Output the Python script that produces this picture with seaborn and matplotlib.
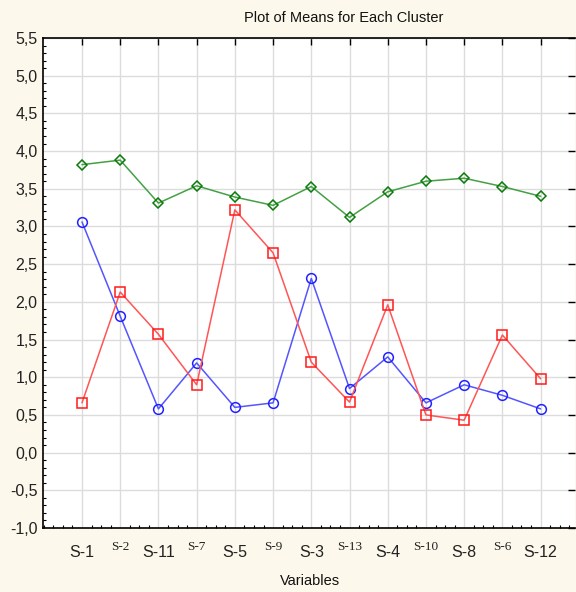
import matplotlib
matplotlib.use("Agg")
import matplotlib.pyplot as plt
import matplotlib.transforms as mtransforms
from matplotlib.ticker import MultipleLocator, FuncFormatter
import numpy as np
import pandas as pd
import seaborn as sns

# Valeurs
variables = ["S-1", "S-2", "S-11", "S-7", "S-5", "S-9", "S-3",
             "S-13", "S-4", "S-10", "S-8", "S-6", "S-12"]
cluster_green = [3.82, 3.88, 3.31, 3.54, 3.39, 3.28, 3.53, 3.12, 3.46, 3.60, 3.64, 3.53, 3.40]
cluster_blue = [3.06, 1.81, 0.58, 1.19, 0.60, 0.66, 2.31, 0.85, 1.27, 0.66, 0.90, 0.76, 0.58]
cluster_red = [0.66, 2.13, 1.57, 0.90, 3.22, 2.65, 1.20, 0.67, 1.96, 0.50, 0.43, 1.56, 0.98]

series = {
    "green": (cluster_green, "#44a044", "#0a7a0a", "D", 5),
    "blue": (cluster_blue, "#5555ff", "#2222ff", "o", 7),
    "red": (cluster_red, "#ff5555", "#ff1a1a", "s", 7),
}

sns.set_style("white")
plt.rcParams["font.family"] = ["Liberation Sans", "DejaVu Sans"]

bg = "#fdf8ec"
fig = plt.figure(figsize=(5.76, 5.92), dpi=100, facecolor=bg)
ax = fig.add_axes([43 / 576, 64 / 592, 532 / 576, 490 / 592])
ax.set_facecolor("white")

pos = np.arange(len(variables))
for name, (vals, lc, mc, mk, ms) in series.items():
    df = pd.DataFrame({"pos": pos, "mean": vals})
    sns.lineplot(data=df, x="pos", y="mean", ax=ax, color=lc, lw=1.1,
                 marker=mk, markersize=ms, markerfacecolor="none",
                 markeredgecolor=mc, markeredgewidth=1.1, zorder=3)

ax.set_xlim(-1.02, 12.9)
ax.set_ylim(-1.0, 5.5)
ax.set_xticks(pos)
ax.set_xticklabels(variables)
ax.xaxis.set_minor_locator(MultipleLocator(0.25))
ax.yaxis.set_major_locator(MultipleLocator(0.5))
ax.yaxis.set_minor_locator(MultipleLocator(0.1))
ax.yaxis.set_major_formatter(FuncFormatter(lambda v, p: f"{v:.1f}".replace(".", ",")))

ax.grid(True, which="major", color="#dcdcdc", lw=1)
ax.set_axisbelow(True)

ax.tick_params(which="major", direction="in", length=5, width=1, color="black",
               top=True, right=True, labelsize=11.5, pad=4)
ax.tick_params(which="minor", direction="in", length=2.5, width=0.8, color="black",
               bottom=True, left=True, top=False, right=False)
ax.tick_params(axis="x", which="major", pad=12)

for sp in ["left", "bottom", "top"]:
    ax.spines[sp].set_color("black")
    ax.spines[sp].set_linewidth(1.2)
ax.spines["right"].set_visible(False)

# étiquettes alternées : sans-serif / serif plus petites
offset = mtransforms.ScaledTranslation(0, 4 / 100, fig.dpi_scale_trans)
for i, lab in enumerate(ax.get_xticklabels()):
    if i % 2 == 1:
        lab.set_family("Liberation Serif")
        lab.set_fontsize(9.5)
        lab.set_transform(lab.get_transform() + offset)
    else:
        lab.set_fontsize(11.5)
    lab.set_color("#222222")
for lab in ax.get_yticklabels():
    lab.set_color("#222222")

ax.set_xlabel("")
ax.set_ylabel("")
fig.text(344 / 576, 1 - 18 / 592, "Plot of Means for Each Cluster",
         ha="center", va="center", fontsize=10.5, color="#111111")
fig.text(310 / 576, 1 - 581 / 592, "Variables",
         ha="center", va="center", fontsize=10.5, color="#111111")

fig.savefig("out.png", dpi=100, facecolor=bg)
